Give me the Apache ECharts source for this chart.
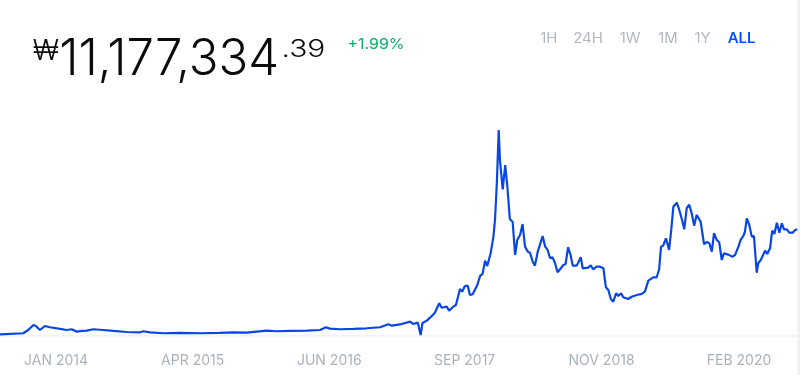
<!DOCTYPE html>
<html><head><meta charset="utf-8">
<script src="https://cdn.jsdelivr.net/npm/echarts@6/dist/echarts.min.js"></script>
<style>html,body{margin:0;padding:0;background:#fff}#c{width:800px;height:375px}</style>
</head><body><div id="c"></div>
<script>
// Price history (KRW, millions)
const dates = [
'2013-07-01','2013-09-14','2013-09-30','2013-10-17','2013-10-25','2013-11-07','2013-11-23','2013-12-09',
'2014-01-11','2014-02-01','2014-02-17','2014-03-06','2014-03-22','2014-04-07','2014-04-28','2014-05-30',
'2014-07-02','2014-08-14','2014-09-26','2014-10-07','2014-10-28','2014-12-10','2015-02-02','2015-04-08',
'2015-06-11','2015-07-24','2015-09-05','2015-10-08','2015-11-09','2015-12-11','2016-01-23','2016-03-17',
'2016-04-29','2016-05-18','2016-05-31','2016-07-03','2016-08-15','2016-09-27','2016-11-09','2016-12-06',
'2016-12-17','2017-01-12','2017-02-14','2017-02-23','2017-03-11','2017-03-20','2017-03-26','2017-04-09',
'2017-04-25','2017-05-05','2017-05-19','2017-05-27','2017-06-12','2017-06-20','2017-07-03','2017-07-12',
'2017-07-25','2017-08-01','2017-08-10','2017-08-19','2017-08-26','2017-09-04','2017-09-19','2017-09-28',
'2017-10-06','2017-10-14','2017-10-21','2017-11-01','2017-11-10','2017-11-15','2017-11-21','2017-11-27',
'2017-12-01','2017-12-10','2017-12-18','2017-12-25','2018-01-02','2018-01-11','2018-01-19','2018-01-26',
'2018-02-04','2018-02-12','2018-02-20','2018-03-01','2018-03-08','2018-03-17','2018-03-24','2018-04-02',
'2018-04-18','2018-04-26','2018-05-04','2018-05-12','2018-05-20','2018-05-28','2018-06-05','2018-06-13',
'2018-06-24','2018-07-01','2018-07-09','2018-07-17','2018-07-24','2018-08-06','2018-08-19','2018-08-25',
'2018-09-12','2018-09-20','2018-09-28','2018-10-09','2018-10-20','2018-10-31','2018-11-08','2018-11-16',
'2018-11-24','2018-12-02','2018-12-11','2018-12-18','2018-12-27','2019-01-03','2019-01-19','2019-01-30',
'2019-02-16','2019-03-04','2019-03-14','2019-03-25','2019-04-10','2019-04-21','2019-04-29','2019-05-05',
'2019-05-12','2019-05-21','2019-05-31','2019-06-07','2019-06-14','2019-06-25','2019-07-03','2019-07-12',
'2019-07-19','2019-07-27','2019-08-04','2019-08-12','2019-08-20','2019-08-28','2019-09-10','2019-09-21',
'2019-09-29','2019-10-08','2019-10-16','2019-10-23','2019-11-01','2019-11-09','2019-11-17','2019-11-24',
'2019-12-08','2019-12-22','2019-12-30','2020-01-10','2020-01-17','2020-01-26','2020-01-31','2020-02-06',
'2020-02-14','2020-02-22','2020-02-29','2020-03-09','2020-03-14','2020-03-22','2020-03-28','2020-04-05',
'2020-04-12','2020-04-21','2020-04-28','2020-05-05','2020-05-13','2020-05-21','2020-05-29','2020-06-05',
'2020-06-14','2020-06-22','2020-07-03','2020-07-11','2020-07-18'
];
const prices = [
0.20,0.31,0.65,1.18,1.07,0.65,1.07,0.94,
0.76,0.65,0.73,0.48,0.55,0.58,0.73,0.65,
0.55,0.44,0.41,0.52,0.41,0.31,0.34,0.31,
0.34,0.41,0.37,0.48,0.58,0.52,0.55,0.58,
0.65,0.94,0.79,0.73,0.76,0.83,0.94,1.25,
1.10,1.23,1.52,1.28,1.42,0.13,1.39,1.63,
2.12,2.46,3.44,2.98,3.09,2.67,3.09,3.27,
4.94,4.66,5.25,5.28,4.31,4.39,5.36,6.30,
6.51,7.90,7.34,8.67,10.41,12.15,15.99,21.56,
18.42,15.36,17.90,15.63,12.23,11.97,8.49,10.06,
10.58,11.73,9.36,8.84,8.73,7.79,7.38,8.84,
10.48,9.36,9.02,8.15,8.25,7.63,6.69,7.00,
7.45,7.55,9.30,8.49,7.38,7.38,8.25,7.10,
7.17,7.40,7.00,7.27,7.27,7.10,5.12,4.83,
3.89,3.61,4.49,4.21,4.49,4.07,3.89,4.13,
4.31,4.42,4.66,5.81,6.16,6.16,7.00,9.36,
9.47,10.24,9.02,11.11,13.54,13.96,13.20,12.15,
11.18,13.38,13.75,12.85,11.56,12.68,11.97,9.61,
9.85,9.72,8.84,10.76,10.06,9.82,7.97,8.67,
8.53,8.32,8.49,9.36,10.06,10.48,10.93,12.33,
11.63,10.41,10.48,6.64,7.63,7.97,8.04,8.94,
8.60,9.19,11.03,10.69,11.87,10.82,11.81,11.18,
11.18,10.82,10.82,11.11,11.18
];
const tickDates = ['2013-12-29','2015-03-15','2016-05-29','2017-08-09','2018-10-25','2020-01-12'];
const tickLabels = ['JAN 2014','APR 2015','JUN 2016','SEP 2017','NOV 2018','FEB 2020'];
const rangeButtons = ['1H','24H','1W','1M','1Y','ALL'];
const currencySign = '₩';
const priceWhole = '11,177,334';
const priceCents = '.39';
const priceChange = '+1.99%';

function ts(s){ const p = s.split('-').map(Number); return new Date(p[0], p[1]-1, p[2]).getTime(); }
const seriesData = dates.map((d,i)=>[ts(d), prices[i]*1e6]);
const tickTs = tickDates.map(ts);

const buttonX = [548.7, 588, 630, 668, 702.5, 741.5];
const graphic = [
  {type:'rect', shape:{x:797.5, y:0, width:2.5, height:375}, style:{fill:'#eef0f3'}, silent:true},
  {type:'text', x:33, y:51.7, style:{text:currencySign, font:'300 28px Inter', fill:'#0a0b0d', align:'left', verticalAlign:'middle'}},
  {type:'text', x:279, y:60, scaleX:0.98, style:{text:priceWhole, font:'300 50px Inter', fill:'#0a0b0d', align:'right', verticalAlign:'middle'}},
  {type:'text', x:281.5, y:49.5, scaleX:1.25, style:{text:priceCents, font:'300 24px Inter', fill:'#0a0b0d', align:'left', verticalAlign:'middle'}},
  {type:'text', x:347.5, y:45, scaleX:1.1, style:{text:priceChange, font:'400 14.5px Inter', fill:'#05b169', align:'left', verticalAlign:'middle'}}
];
rangeButtons.forEach((b,i)=>{
  const active = b === 'ALL';
  graphic.push({type:'text', x:buttonX[i], y:39, scaleX:1.08, style:{text:b, font:(active?'600 ':'400 ')+'13.8px Inter',
    fill: active ? '#0052ff' : '#b1b8c3', align:'center', verticalAlign:'middle'}});
});

const chart = echarts.init(document.getElementById('c'), null, {renderer:'canvas'});
chart.setOption({
  animation:false,
  backgroundColor:'#ffffff',
  grid:{left:0, right:2.7, top:99, bottom:34, containLabel:false},
  xAxis:{
    type:'value',
    min: ts(dates[0]), max: ts(dates[dates.length-1]),
    axisLine:{show:true, lineStyle:{color:'#eef0f3', width:1.5}},
    axisTick:{show:false},
    splitLine:{show:false},
    axisLabel:{
      customValues: tickTs,
      margin: 13,
      color:'#aab1bd',
      fontFamily:'Inter',
      fontSize:14,
      hideOverlap:false,
      formatter: function(v){
        for (let i=0;i<tickTs.length;i++){ if (Math.abs(tickTs[i]-v) < 43200000) return tickLabels[i]; }
        return '';
      }
    }
  },
  yAxis:{type:'value', min:-0.5e6, max:24.8e6, show:false, splitLine:{show:false}},
  series:[{
    type:'line', data:seriesData, showSymbol:false, symbol:'none',
    lineStyle:{color:'#0a46e4', width:2.2}, silent:true
  }],
  graphic: graphic
});
</script>
</body></html>
